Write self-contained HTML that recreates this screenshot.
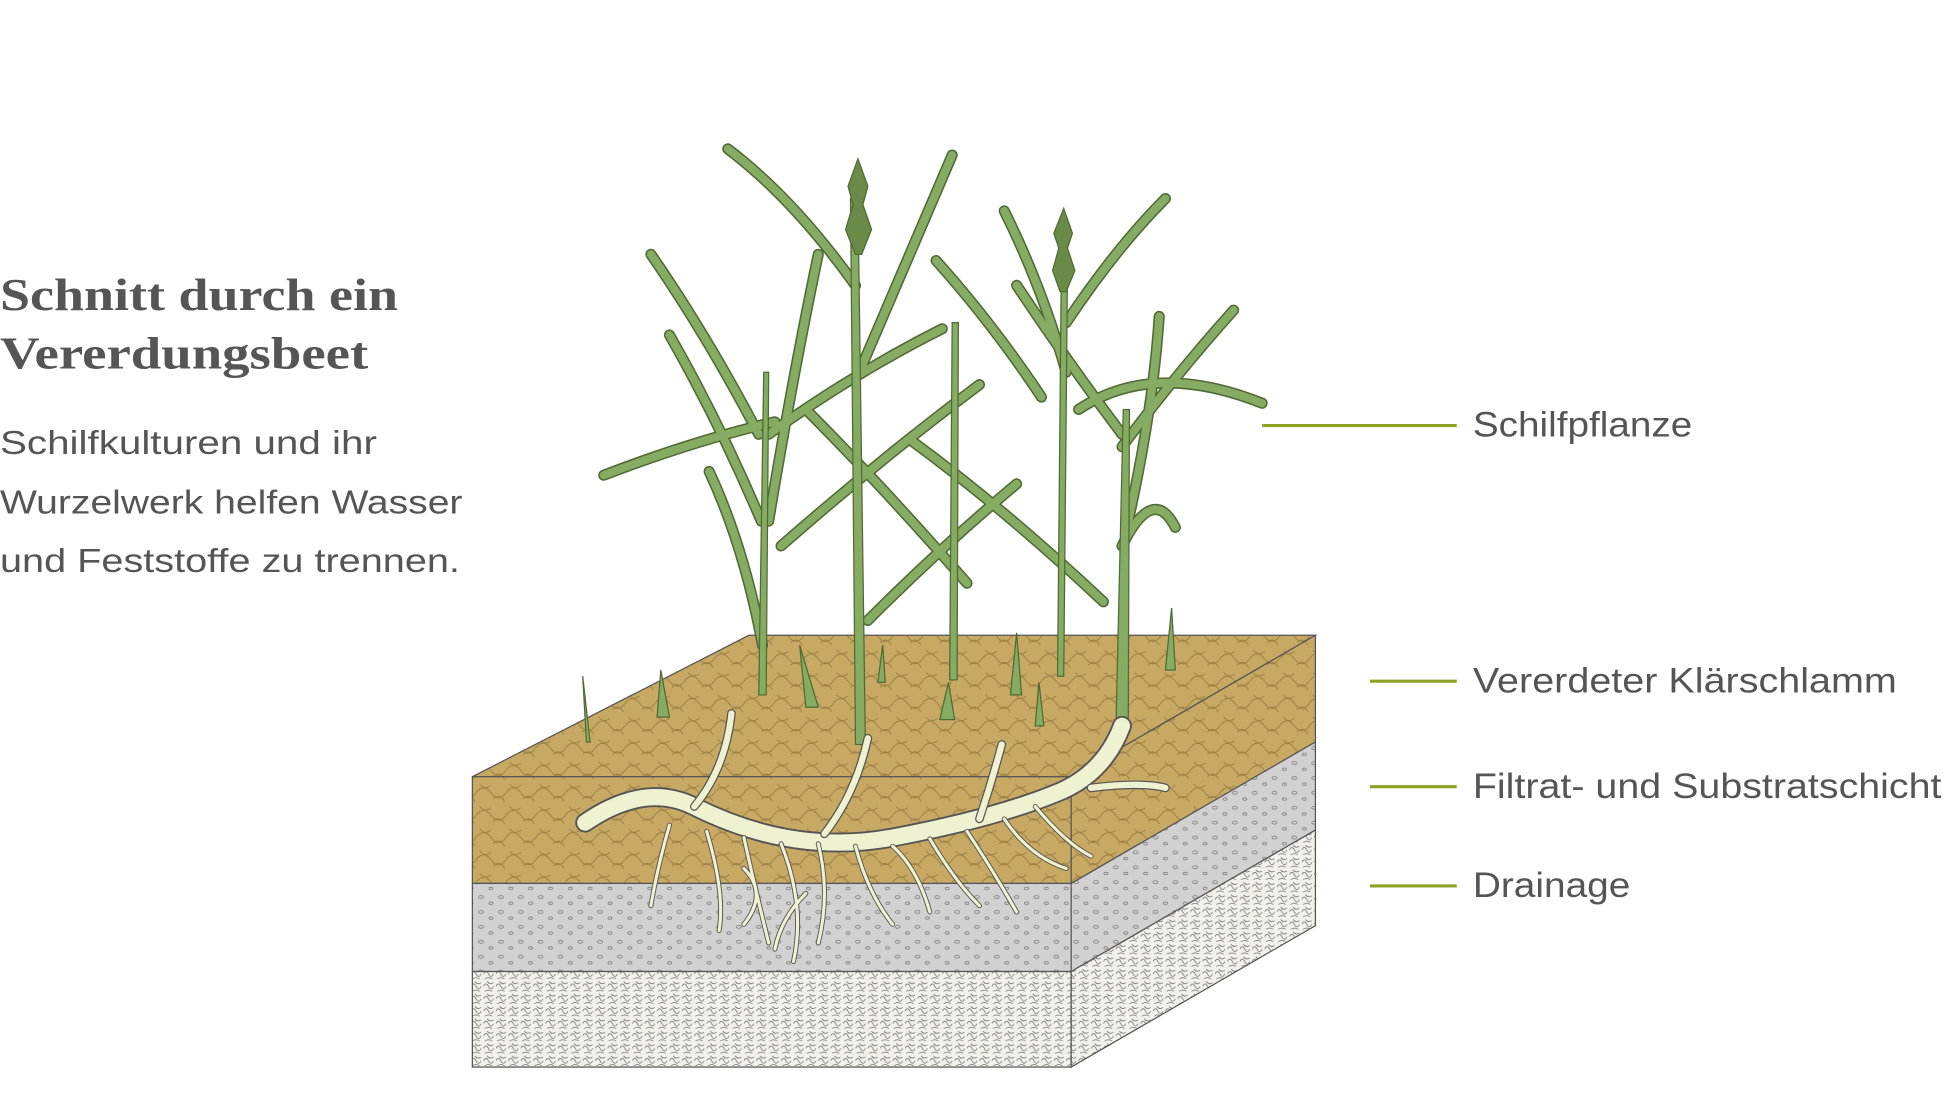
<!DOCTYPE html>
<html><head><meta charset="utf-8"><style>
html,body{margin:0;padding:0;background:#fff;}
svg{display:block}
</style></head><body>
<svg width="1944" height="1108" viewBox="0 0 1568 893" preserveAspectRatio="none" xmlns="http://www.w3.org/2000/svg">
<defs>
<pattern id="swirl" width="24" height="18" patternUnits="userSpaceOnUse">
<rect width="24" height="18" fill="#c8a963"/>
<path d="M0 9 q6 -8 12 0 t12 0 M3 2 q4 5 9 1 M14 14 q5 -5 9 2" fill="none" stroke="#9c7f45" stroke-width="0.8"/>
</pattern>
<pattern id="grav" width="16" height="12" patternUnits="userSpaceOnUse">
<rect width="16" height="12" fill="#d2d1d1"/>
<ellipse cx="4" cy="3" rx="2" ry="1.2" fill="none" stroke="#777" stroke-width="0.6"/>
<ellipse cx="12" cy="8" rx="1.6" ry="1" fill="none" stroke="#777" stroke-width="0.6"/>
</pattern>
<pattern id="drain" width="10" height="10" patternUnits="userSpaceOnUse">
<rect width="10" height="10" fill="#f1f0ea"/>
<path d="M0 5 q2 -4 4 0 t4 0 M3 1 q2 3 5 1 M1 9 q3 -2 6 0" fill="none" stroke="#666" stroke-width="0.6"/>
</pattern>
</defs>

<text x="0" y="250" font-family="Liberation Serif, serif" font-weight="bold" font-size="37" fill="#555" textLength="321" lengthAdjust="spacingAndGlyphs">Schnitt durch ein</text>
<text x="0" y="297" font-family="Liberation Serif, serif" font-weight="bold" font-size="37" fill="#555" textLength="297" lengthAdjust="spacingAndGlyphs">Vererdungsbeet</text>
<g font-family="Liberation Sans, sans-serif" font-size="27" fill="#555" lengthAdjust="spacingAndGlyphs">
<text x="0" y="366" textLength="304" lengthAdjust="spacingAndGlyphs">Schilfkulturen und ihr</text>
<text x="0" y="414" textLength="373" lengthAdjust="spacingAndGlyphs">Wurzelwerk helfen Wasser</text>
<text x="0" y="461" textLength="371" lengthAdjust="spacingAndGlyphs">und Feststoffe zu trennen.</text>
</g>
<g font-family="Liberation Sans, sans-serif" font-size="28" fill="#555">
<text x="1188" y="352" textLength="177" lengthAdjust="spacingAndGlyphs">Schilfpflanze</text>
<text x="1188" y="558" textLength="342" lengthAdjust="spacingAndGlyphs">Vererdeter Klärschlamm</text>
<text x="1188" y="643" textLength="378" lengthAdjust="spacingAndGlyphs">Filtrat- und Substratschicht</text>
<text x="1188" y="723" textLength="127" lengthAdjust="spacingAndGlyphs">Drainage</text>
</g>
<g stroke="#8ba324" stroke-width="2.5">
<line x1="1018" y1="343" x2="1175" y2="343"/>
<line x1="1105" y1="549" x2="1175" y2="549"/>
<line x1="1105" y1="634" x2="1175" y2="634"/>
<line x1="1105" y1="714" x2="1175" y2="714"/>
</g>

<g stroke="#555" stroke-width="1">
<polygon points="381,626 864,626 1061,512 604,512" fill="url(#swirl)"/>
<rect x="381" y="626" width="483" height="86" fill="url(#swirl)"/>
<rect x="381" y="712" width="483" height="71" fill="url(#grav)"/>
<rect x="381" y="783" width="483" height="77" fill="url(#drain)"/>
<polygon points="864,626 1061,512 1061,598 864,712" fill="url(#swirl)"/>
<polygon points="864,712 1061,598 1061,669 864,783" fill="url(#grav)"/>
<polygon points="864,783 1061,669 1061,746 864,860" fill="url(#drain)"/>
</g>

<!-- leaves: dark outline then green -->
<g fill="none" stroke-linecap="round">
<g id="lv" stroke="#4f6a34" stroke-width="9">
<path d="M625 340 Q560 355 487 383"/>
<path d="M612 350 Q570 270 525 205"/>
<path d="M614 420 Q580 340 540 270"/>
<path d="M615 520 Q600 440 572 380"/>
<path d="M620 420 Q640 300 660 205"/>
<path d="M690 230 Q640 160 587 120"/>
<path d="M693 300 Q740 190 768 125"/>
<path d="M780 470 Q710 390 650 330"/>
<path d="M700 500 Q760 440 820 390"/>
<path d="M630 440 Q710 370 790 310"/>
<path d="M620 350 Q690 300 760 265"/>
<path d="M840 320 Q800 260 755 210"/>
<path d="M860 300 Q840 230 810 170"/>
<path d="M890 485 Q810 410 735 355"/>
<path d="M860 260 Q900 200 940 160"/>
<path d="M870 330 Q930 290 1018 325"/>
<path d="M905 360 Q950 300 995 250"/>
<path d="M905 440 Q930 390 948 425"/>
<path d="M905 350 Q860 290 820 230"/>
<path d="M910 420 Q930 330 935 255"/>
</g>
<g stroke="#86ab62" stroke-width="6.5">
<path d="M625 340 Q560 355 487 383"/>
<path d="M612 350 Q570 270 525 205"/>
<path d="M614 420 Q580 340 540 270"/>
<path d="M615 520 Q600 440 572 380"/>
<path d="M620 420 Q640 300 660 205"/>
<path d="M690 230 Q640 160 587 120"/>
<path d="M693 300 Q740 190 768 125"/>
<path d="M780 470 Q710 390 650 330"/>
<path d="M700 500 Q760 440 820 390"/>
<path d="M630 440 Q710 370 790 310"/>
<path d="M620 350 Q690 300 760 265"/>
<path d="M840 320 Q800 260 755 210"/>
<path d="M860 300 Q840 230 810 170"/>
<path d="M890 485 Q810 410 735 355"/>
<path d="M860 260 Q900 200 940 160"/>
<path d="M870 330 Q930 290 1018 325"/>
<path d="M905 360 Q950 300 995 250"/>
<path d="M905 440 Q930 390 948 425"/>
<path d="M905 350 Q860 290 820 230"/>
<path d="M910 420 Q930 330 935 255"/>
</g>
</g>

<g stroke="#4f6a34" stroke-width="1" fill="#86ab62">
<path d="M612 560 L616 300 L620 300 L618 560Z"/>
<path d="M690 600 L686 160 L692 160 L698 600Z"/>
<path d="M766 548 L768 260 L773 260 L772 548Z"/>
<path d="M853 545 L856 220 L861 220 L858 545Z"/>
<path d="M900 590 L906 330 L911 330 L910 590Z"/>
<path d="M470 545 L473 598 L476 598Z"/>
<path d="M533 540 L530 578 L540 578Z"/>
<path d="M645 520 L650 570 L660 570Z"/>
<path d="M765 550 L758 580 L770 580Z"/>
<path d="M820 510 L815 560 L824 560Z"/>
<path d="M838 550 L835 585 L842 585Z"/>
<path d="M945 490 L940 540 L948 540Z"/>
<path d="M712 520 L708 550 L714 550Z"/>
</g>
<g fill="#6a8a48" stroke="#4f6a34" stroke-width="1">
<path d="M692 128 L700 150 L696 165 L703 185 L695 205 L690 205 L682 185 L688 165 L684 150Z"/>
<path d="M858 168 L865 188 L861 200 L867 218 L860 235 L855 235 L849 218 L854 200 L850 188Z"/>
</g>

<g fill="none" stroke-linecap="round">
<path d="M472 663 Q520 630 560 650 Q640 690 720 675 Q800 660 850 640 Q890 625 905 585" stroke="#555" stroke-width="16"/>
<path d="M472 663 Q520 630 560 650 Q640 690 720 675 Q800 660 850 640 Q890 625 905 585" stroke="#eef2d0" stroke-width="13"/>
<path d="M700 595 Q690 640 665 672 M590 575 Q585 620 560 650 M808 600 Q800 630 790 660 M880 635 Q920 630 940 635" stroke="#555" stroke-width="7"/>
<path d="M700 595 Q690 640 665 672 M590 575 Q585 620 560 650 M808 600 Q800 630 790 660 M880 635 Q920 630 940 635" stroke="#eef2d0" stroke-width="5"/>
<path d="M540 665 Q530 700 525 730 M570 670 Q585 720 580 750 M600 675 Q610 720 620 760 M630 680 Q650 730 640 775 M660 680 Q670 720 660 760 M690 682 Q700 720 720 745 M720 682 Q740 700 750 735 M750 676 Q770 710 790 730 M780 670 Q800 700 820 735 M810 660 Q830 690 860 700 M835 650 Q860 680 880 690 M600 700 Q620 720 600 745 M650 720 Q630 740 625 765" stroke="#555" stroke-width="4"/>
<path d="M540 665 Q530 700 525 730 M570 670 Q585 720 580 750 M600 675 Q610 720 620 760 M630 680 Q650 730 640 775 M660 680 Q670 720 660 760 M690 682 Q700 720 720 745 M720 682 Q740 700 750 735 M750 676 Q770 710 790 730 M780 670 Q800 700 820 735 M810 660 Q830 690 860 700 M835 650 Q860 680 880 690 M600 700 Q620 720 600 745 M650 720 Q630 740 625 765" stroke="#eef2d0" stroke-width="2.5"/>
</g>
</svg>
</body></html>
